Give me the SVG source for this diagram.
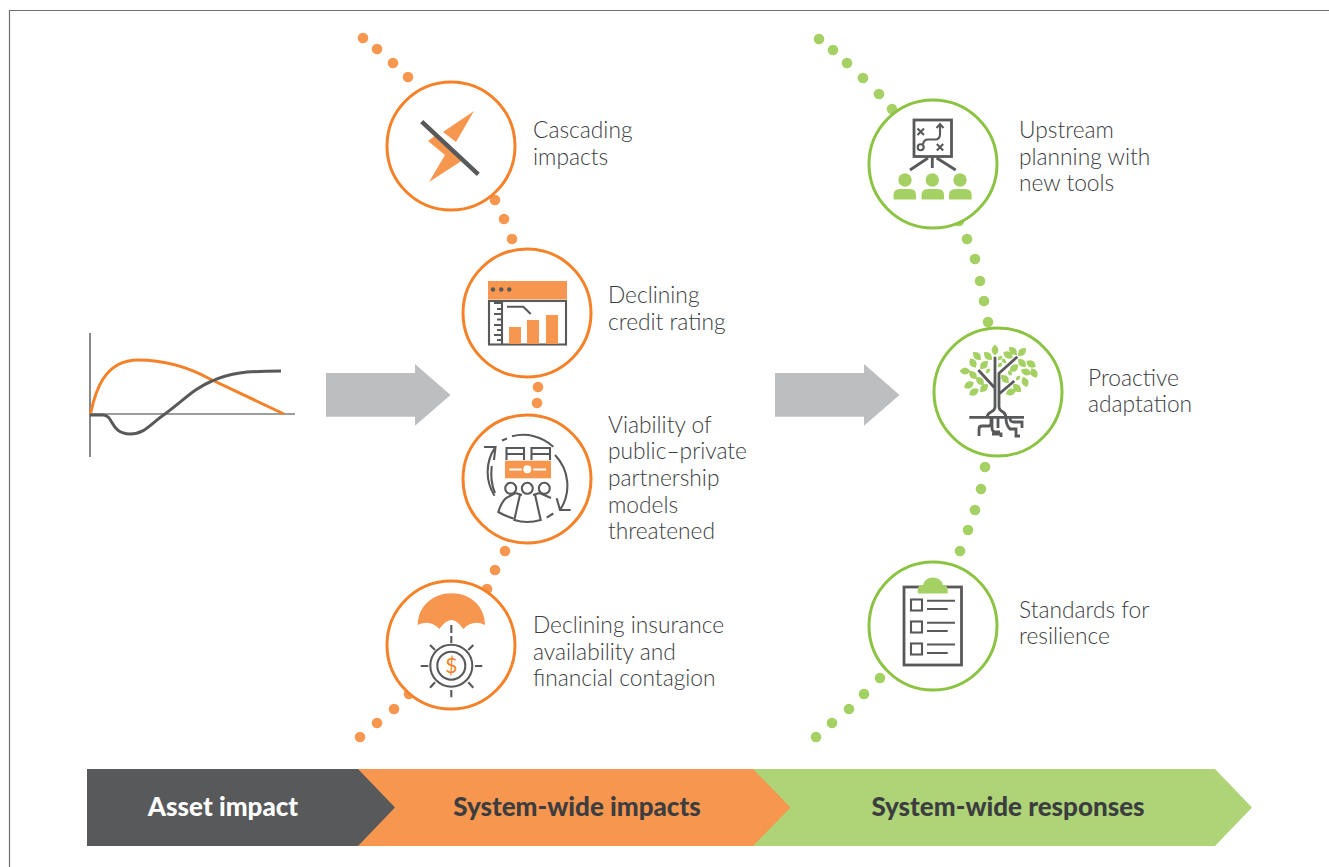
<svg xmlns="http://www.w3.org/2000/svg" width="1329" height="867" viewBox="0 0 1329 867">
<style>
.t{font-family:Lato,"Liberation Sans",sans-serif;font-weight:300;font-size:22.75px;fill:#3c3d3f}
.b{font-family:Lato,"Liberation Sans",sans-serif;font-weight:900;font-size:26px;text-anchor:middle}
.co{fill:#fff;stroke:#F58229;stroke-width:3}
.cg{fill:#fff;stroke:#8CC342;stroke-width:3}
.do{fill:#F7964F}
.dg{fill:#A5D164}
.io{fill:#F7964F}
.ig{fill:#A5D164}
.l{fill:none;stroke:#58595B;stroke-width:2.1;stroke-linecap:butt;stroke-linejoin:miter}
.l3{fill:none;stroke:#58595B;stroke-width:2.8}
.ar{fill:#BCBEC0}
</style>
<defs>
<path id="leaf" d="M-5.500 0Q0-7 5.500 0Q0 7-5.500 0Z"/>
<circle id="dot" r="5.300"/>
</defs>
<rect width="1329" height="867" fill="#fff"/>
<path id="frame" d="M9.500 867V10.500H1329" fill="none" stroke="#6d6e70" stroke-width="1.200"/>

<g id="connectors">
<g class="do">
<use href="#dot" x="363" y="38"/><use href="#dot" x="377" y="49"/><use href="#dot" x="393" y="63"/><use href="#dot" x="408" y="77"/>
<use href="#dot" x="495" y="200"/><use href="#dot" x="504" y="219"/><use href="#dot" x="512" y="239"/>
<use href="#dot" x="538" y="387"/><use href="#dot" x="537" y="403"/>
<use href="#dot" x="505" y="551"/><use href="#dot" x="495" y="570"/><use href="#dot" x="487" y="589"/>
<use href="#dot" x="409" y="694"/><use href="#dot" x="394" y="709"/><use href="#dot" x="377" y="723"/><use href="#dot" x="360" y="737"/>
</g>
<g class="dg">
<use href="#dot" x="819" y="39"/><use href="#dot" x="833" y="50"/><use href="#dot" x="847" y="63"/><use href="#dot" x="863" y="78"/><use href="#dot" x="879" y="94"/><use href="#dot" x="892" y="109"/>
<use href="#dot" x="959" y="221"/><use href="#dot" x="967" y="239"/><use href="#dot" x="975" y="259"/><use href="#dot" x="980" y="281"/><use href="#dot" x="984" y="301"/><use href="#dot" x="988" y="322"/>
<use href="#dot" x="985" y="467"/><use href="#dot" x="981" y="489"/><use href="#dot" x="975" y="510"/><use href="#dot" x="968" y="530"/><use href="#dot" x="960" y="551"/>
<use href="#dot" x="880" y="678"/><use href="#dot" x="864" y="694"/><use href="#dot" x="849" y="709"/><use href="#dot" x="832" y="723"/><use href="#dot" x="816" y="737"/>
</g>
<path class="ar" d="M326 373H415V364L450.500 395L415 425.700V416.700H326Z"/>
<path class="ar" d="M775 373H864V364L899.500 395L864 425.700V416.700H775Z"/>
</g>

<g id="chart">
<path d="M90 333V457" fill="none" stroke="#7b7c7e" stroke-width="1.800"/>
<path d="M90 414H295" fill="none" stroke="#7b7c7e" stroke-width="1.300"/>
<path d="M90.500 414C95 392 104 360 138 360C165 360 190 368 210 379L284 414" fill="none" stroke="#F58229" stroke-width="3"/>
<path d="M90 415H103C114 415 110 434 130 434C145 434 150 424 165 414C185 399 195 388 212 381C230 373 245 371 281 371" fill="none" stroke="#58595B" stroke-width="3"/>
</g>

<g id="node-cascading">
<circle class="co" cx="451" cy="146" r="64"/>
<path class="io" d="M474 111L443 132L456 142Z"/>
<path class="io" d="M428 141L436 135L463 160L429 182L445 155Z"/>
<path d="M421.700 121.700L478.300 174.300" fill="none" stroke="#58595B" stroke-width="4.500"/>
<text class="t" x="533" y="138">Cascading</text>
<text class="t" x="533" y="165">impacts</text>
</g>

<g id="node-credit">
<circle class="co" cx="527" cy="313" r="64"/>
<rect class="io" x="488" y="281" width="79" height="18.500"/>
<g fill="#58595B"><circle cx="493" cy="289.500" r="2.200"/><circle cx="501.300" cy="289.500" r="2.200"/><circle cx="509.300" cy="289.500" r="2.200"/></g>
<rect class="l" x="489" y="301" width="77" height="43.500"/>
<path class="l" d="M502 301V344M502 303H494M502 309H497M502 314H494M502 319.500H497M502 325H494M502 330H497M502 335H494M502 340H497"/>
<rect class="io" x="509" y="327" width="12" height="17"/>
<rect class="io" x="527" y="320" width="12" height="24"/>
<rect class="io" x="546" y="315" width="12" height="29"/>
<path class="l" d="M507 306.700H523.300L530.700 314"/>
<text class="t" x="608" y="303">Declining</text>
<text class="t" x="608" y="330">credit rating</text>
</g>

<g id="node-viability">
<circle class="co" cx="527" cy="479" r="64"/>
<rect class="io" x="505" y="460.700" width="46" height="17.600"/>
<circle cx="527.300" cy="469.300" r="4" fill="#fff"/>
<path d="M509.300 469.500H521.700M533.300 469.500H546" stroke="#fff" stroke-width="1.800" fill="none"/>
<path class="l" d="M506.500 460V448H524V460M506.500 454H524M531.500 460V448H550V460M531.500 454H550"/>
<g class="l">
<circle cx="510.700" cy="488.300" r="5.500"/><circle cx="527.300" cy="488.300" r="5.500"/><circle cx="544.300" cy="488.300" r="5.500"/>
<path d="M520 494.500L514.300 520Q527 524 540.700 520L535 494.500"/>
<path d="M515.500 493L506 498Q501 503 498.300 512Q505 516 513.500 518.500"/>
<path d="M539.500 493L551 498M522 495L515.500 493M533 495L539.500 493"/>
<path d="M495 447.700A44 44 0 0 0 494.500 495.700M484 447H495.500L494 460"/>
<path d="M491.700 466Q490 482 495 493"/>
<path d="M502 440.500L507 438.500M512 436.300A44 44 0 0 1 553.300 446.700M555 455A44 44 0 0 1 560 510M556.700 498.300L560 510H570.700"/>
<path d="M546.700 517.700L553.300 513.500"/>
</g>
<text class="t" x="608" y="433">Viability of</text>
<text class="t" x="608" y="459">public–private</text>
<text class="t" x="608" y="486">partnership</text>
<text class="t" x="608" y="513">models</text>
<text class="t" x="608" y="539">threatened</text>
</g>

<g id="node-insurance">
<circle class="co" cx="451" cy="645" r="64"/>
<path class="io" d="M417.700 625C418 606 433 593.300 451.700 593.300C470 593.300 485 606 485 625Q473 619 463.300 629Q457 620 451.500 620Q446 620 439.300 629Q430 619 417.700 625Z"/>
<g class="l">
<path d="M451.300 625V633M451.300 636V643M451.300 690V697.300M420.700 666H428.300M475 666H482.300M430 645L435 650M473.300 645L468.300 650M430 687.700L435 682.300M473.300 687.700L468.300 682.300"/>
<circle cx="451.300" cy="665.700" r="21"/><circle cx="451.300" cy="665.700" r="14"/>
</g>
<text x="451.300" y="673" text-anchor="middle" style="font-family:Lato,'Liberation Sans',sans-serif;font-size:21px;fill:#F58229">$</text>
<text class="t" x="533" y="633">Declining insurance</text>
<text class="t" x="533" y="660">availability and</text>
<text class="t" x="533" y="686">financial contagion</text>
</g>

<g id="node-upstream">
<circle class="cg" cx="933" cy="164" r="64"/>
<rect class="l3" x="914" y="120" width="37.500" height="36.500"/>
<path class="l3" d="M932.300 157V168M928 158L910 170M936.700 158L955.700 170"/>
<path class="l" d="M917.500 128.500L924 135M924 128.500L917.500 135M936.800 144L943.200 150.500M943.200 144L936.800 150.500M923 144Q924 139.500 928 139.500H935Q940 139.500 940 134V126"/>
<circle class="l" cx="920.700" cy="147.300" r="3"/>
<path class="l" d="M936.500 128L940 124L943.500 128"/>
<g class="ig">
<circle cx="905" cy="180" r="6.700"/><circle cx="932.300" cy="180" r="6.700"/><circle cx="960" cy="180" r="6.700"/>
<path d="M893.500 199.500V195Q893.500 189 900 189H910Q916 189 916 195V199.500Z"/>
<path d="M921.500 199.500V195Q921.500 189 928 189H938Q944 189 944 195V199.500Z"/>
<path d="M949 199.500V195Q949 189 955.500 189H965.500Q971.700 189 971.700 195V199.500Z"/>
</g>
<text class="t" x="1019" y="138">Upstream</text>
<text class="t" x="1019" y="165">planning with</text>
<text class="t" x="1019" y="191">new tools</text>
</g>

<g id="node-proactive">
<circle class="cg" cx="998" cy="392" r="64"/>
<g class="ig">
<use href="#leaf" transform="translate(995,350) rotate(90)"/>
<use href="#leaf" transform="translate(988,356) rotate(45)"/>
<use href="#leaf" transform="translate(977,356) rotate(45)"/>
<use href="#leaf" transform="translate(973,363) rotate(60)"/>
<use href="#leaf" transform="translate(984,365) rotate(-45)"/>
<use href="#leaf" transform="translate(965,371)"/>
<use href="#leaf" transform="translate(973,375) rotate(45)"/>
<use href="#leaf" transform="translate(969,385) rotate(-30)"/>
<use href="#leaf" transform="translate(980,381) rotate(45)"/>
<use href="#leaf" transform="translate(984,388) rotate(-45)"/>
<use href="#leaf" transform="translate(974,392) rotate(-30)"/>
<use href="#leaf" transform="translate(1008,355) rotate(30)"/>
<use href="#leaf" transform="translate(1013,351) rotate(45)"/>
<use href="#leaf" transform="translate(1022,352) rotate(-45)"/>
<use href="#leaf" transform="translate(1022,363) rotate(45)"/>
<use href="#leaf" transform="translate(1031,364) rotate(30)"/>
<use href="#leaf" transform="translate(1014,368) rotate(-40)"/>
<use href="#leaf" transform="translate(1026,372) rotate(20)"/>
<use href="#leaf" transform="translate(1034,373) rotate(60)"/>
<use href="#leaf" transform="translate(1005,379) rotate(45)"/>
<use href="#leaf" transform="translate(1025,382) rotate(70)"/>
<use href="#leaf" transform="translate(1017,388) rotate(45)"/>
<use href="#leaf" transform="translate(1011,392) rotate(-20)"/>
<use href="#leaf" transform="translate(988,371) rotate(-45) scale(.55)"/>
<use href="#leaf" transform="translate(1000,358) rotate(-45) scale(.55)"/>
<use href="#leaf" transform="translate(1004,361) rotate(45) scale(.55)"/>
<use href="#leaf" transform="translate(1000,365) rotate(-45) scale(.55)"/>
<use href="#leaf" transform="translate(1010,373) rotate(60) scale(.55)"/>
<use href="#leaf" transform="translate(1018,378) rotate(-45) scale(.55)"/>
</g>
<path class="l3" d="M995 356.700V407Q995 410 991 412Q987 414 987 418M978.300 370L995 388.300M1017.300 356.700L999 373.300V407Q999 410 1003 412Q1006 414 1006 418M1014.300 381L999 394M969.300 417.300H1024M998 417V428"/>
<path class="l3" d="M979 436V429Q979 426 982 426H989Q991 426 991 422V418M992 418V428Q992 432 996 432H1000M992 434H1001V437M1006 418Q1006 425 1010 429H1016V436H1020M1010 418Q1010 422 1014 422H1022V428"/>
<text class="t" x="1088" y="386">Proactive</text>
<text class="t" x="1088" y="412">adaptation</text>
</g>

<g id="node-standards">
<circle class="cg" cx="933" cy="626" r="64"/>
<rect class="l3" x="904" y="587" width="57.500" height="78"/>
<path class="ig" d="M917.700 593.500V590Q917.700 585 923 585Q925 577.500 932.700 577.500Q941 577.500 943 585Q947.700 585 947.700 590V593.500Z"/>
<g class="l">
<rect x="911" y="599.500" width="11" height="11"/><rect x="911" y="621.500" width="11" height="11"/><rect x="911" y="643.500" width="11" height="11"/>
<path d="M927 600.700H955M927 609H947.700M927 622.700H955M927 631H947.700M927 644.500H955M927 653H947.700"/>
</g>
<text class="t" x="1019" y="618">Standards for</text>
<text class="t" x="1019" y="644">resilience</text>
</g>

<g id="bar">
<path fill="#AED477" d="M700 769H1215L1252 807.500L1215 846H700Z"/>
<path fill="#F7964F" d="M300 769H753L790.500 807.500L753 846H300Z"/>
<path fill="#58595B" d="M87 769H358L395 807.500L358 846H87Z"/>
<text class="b" x="223" y="816" fill="#fff">Asset impact</text>
<text class="b" x="577" y="816" fill="#3c3d3f">System-wide impacts</text>
<text class="b" x="1008" y="816" fill="#3c3d3f">System-wide responses</text>
</g>
</svg>
